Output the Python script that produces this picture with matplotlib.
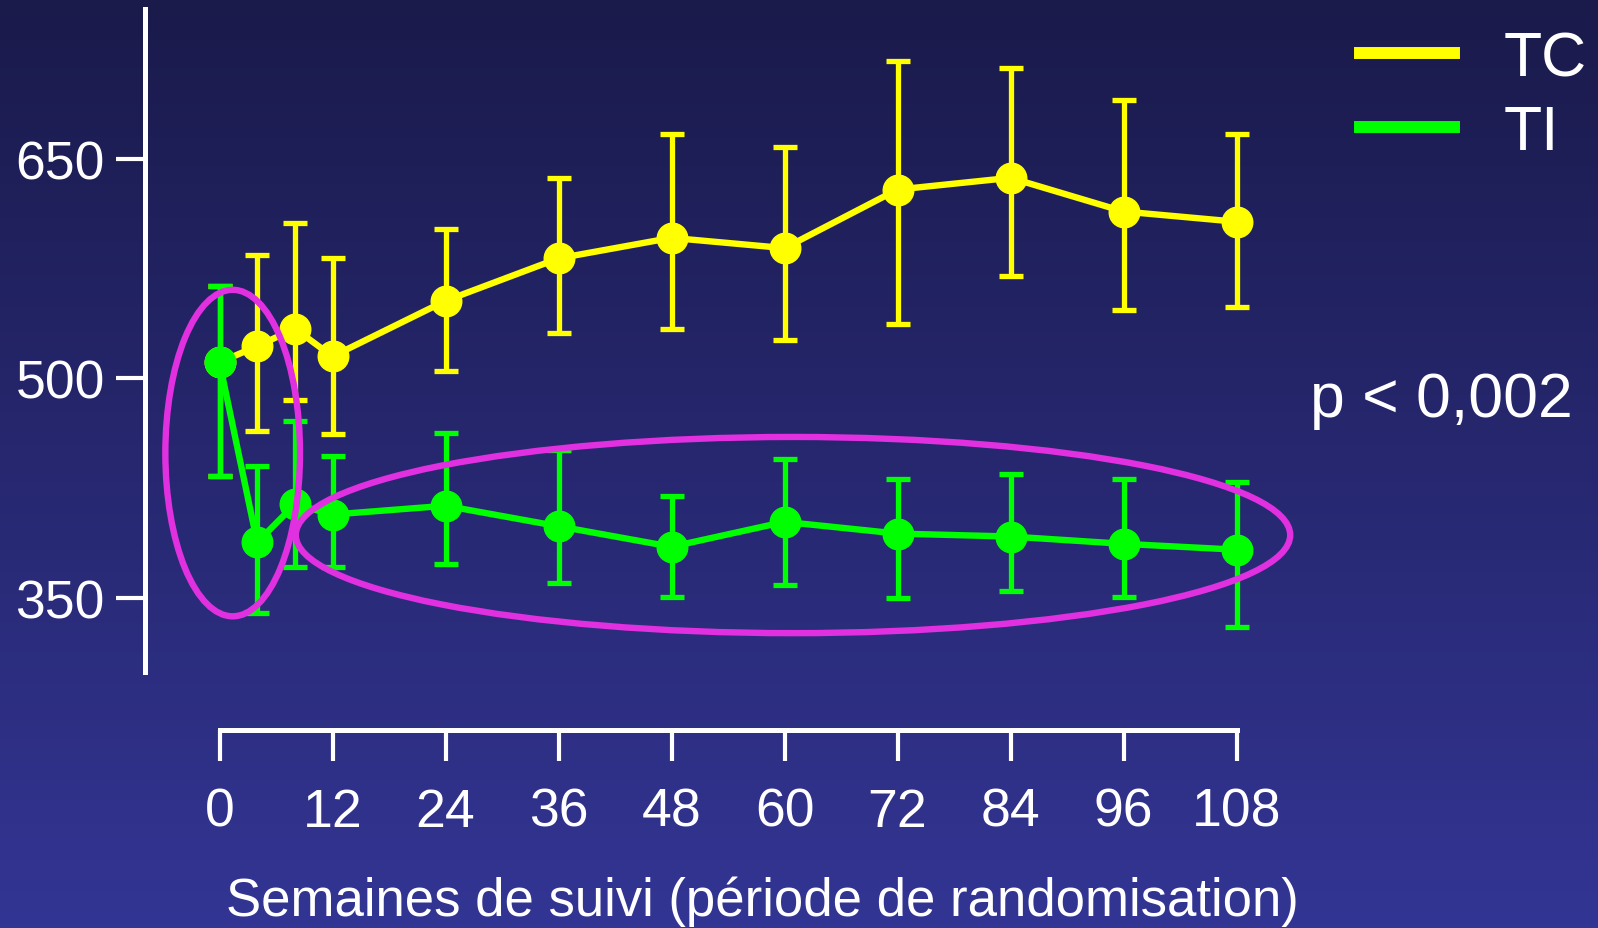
import numpy as np
import matplotlib
matplotlib.use('Agg')
import matplotlib.pyplot as plt
from matplotlib.colors import LinearSegmentedColormap
from matplotlib.patches import Ellipse
from matplotlib.lines import Line2D

plt.rcParams['font.family'] = ['Liberation Sans', 'DejaVu Sans']

# --- Data ---
weeks = [0, 4, 8, 12, 24, 36, 48, 60, 72, 84, 96, 108]
tick_weeks = [0, 12, 24, 36, 48, 60, 72, 84, 96, 108]
y_ticks = [350, 500, 650]

# TC group (yellow): mean, lower and upper end of the error bar
tc_mean = [511, 522, 534, 515, 553, 582, 596, 589, 629, 637, 614, 607]
tc_low = [433, 464, 485, 462, 505, 531, 534, 526, 537, 570, 547, 549]
tc_high = [563, 584, 606, 582, 602, 637, 667, 658, 717, 712, 690, 667]

# TI group (green)
ti_mean = [511, 388, 414, 407, 413, 399, 385, 402, 394, 392, 387, 383]
ti_low = [433, 340, 371, 371, 373, 360, 351, 359, 350, 355, 351, 330]
ti_high = [563, 440, 471, 447, 463, 451, 420, 445, 431, 435, 431, 429]

series_names = ['TC', 'TI']
x_label = 'Semaines de suivi (période de randomisation)'
p_text = 'p < 0,002'

# colours
yellow = '#ffff00'
green = '#00ff00'
magenta = '#e030e0'
bg_top = '#1a1a4b'
bg_bottom = '#333594'

# --- Figure ---
W, H = 1598, 929
fig = plt.figure(figsize=(W / 100, H / 100), dpi=100)

# gradient background
bg = fig.add_axes([0, 0, 1, 1])
grad = np.linspace(0, 1, 256).reshape(-1, 1)
cmap = LinearSegmentedColormap.from_list('bg', [bg_top, bg_bottom])
bg.imshow(grad, aspect='auto', cmap=cmap, extent=[0, 1, 0, 1])
bg.axis('off')

# main axes: left spine at x=145px, bottom spine at y=731px from top
left_px, right_px, bottom_px = 145, 1300, 731
ax = fig.add_axes([left_px / W, (H - bottom_px) / H,
                   (right_px - left_px) / W, bottom_px / H])
ax.set_facecolor('none')

px_per_week = 9.417
x0_px = 219.5
ax.set_xlim((left_px - x0_px) / px_per_week, (right_px - x0_px) / px_per_week)

px_per_unit = 1.464
y350_px = 599
ax.set_ylim(350 - (bottom_px - y350_px) / px_per_unit, 350 + y350_px / px_per_unit)


def draw_group(mean, low, high, color, z):
    mean = np.array(mean)
    yerr = [mean - np.array(low), np.array(high) - mean]
    ax.errorbar(weeks, mean, yerr=yerr, color=color, lw=4.6, marker='o',
                markersize=22, elinewidth=3.8, capsize=8.5, capthick=3.8,
                zorder=z, clip_on=False)


draw_group(tc_mean, tc_low, tc_high, yellow, 3)
draw_group(ti_mean, ti_low, ti_high, green, 4)

# magenta highlight ellipses
ax.add_patch(Ellipse((1.4, 449), 14.3, 223, fill=False, ec=magenta, lw=4.6, zorder=6))
ax.add_patch(Ellipse((60.9, 393), 105.6, 134, fill=False, ec=magenta, lw=4.6, zorder=6))

# axes styling
for s in ['top', 'right']:
    ax.spines[s].set_visible(False)
for s in ['left', 'bottom']:
    ax.spines[s].set_color('white')
    ax.spines[s].set_linewidth(3.6)
ax.spines['left'].set_bounds(299.5, 752.3)
ax.spines['bottom'].set_bounds(0, 108)

ax.set_xticks(tick_weeks)
ax.set_xticklabels([str(t) for t in tick_weeks])
ax.set_yticks(y_ticks)
ax.set_yticklabels([str(t) for t in y_ticks])
ax.tick_params(axis='x', colors='white', labelsize=38.5, length=22, width=3, pad=19)
ax.tick_params(axis='y', colors='white', labelsize=38.5, length=21, width=3, pad=8)

ax.set_xlabel(x_label, color='white', fontsize=38, va='baseline')
ax.xaxis.set_label_coords((762 - left_px) / (right_px - left_px), -(916 - bottom_px) / bottom_px)

# legend
handles = [Line2D([], [], color=yellow, lw=8.6), Line2D([], [], color=green, lw=8.6)]
fig.legend(handles, series_names, loc='upper left', bbox_to_anchor=(1304 / W, 1 + 26 / H),
           frameon=False, fontsize=45, labelcolor='white', handlelength=1.5,
           handletextpad=0.8, labelspacing=0.23)

fig.text(1310 / W, 1 - 417 / H, p_text, color='white', fontsize=45, va='baseline', ha='left')

fig.savefig('out.png', dpi=100)
